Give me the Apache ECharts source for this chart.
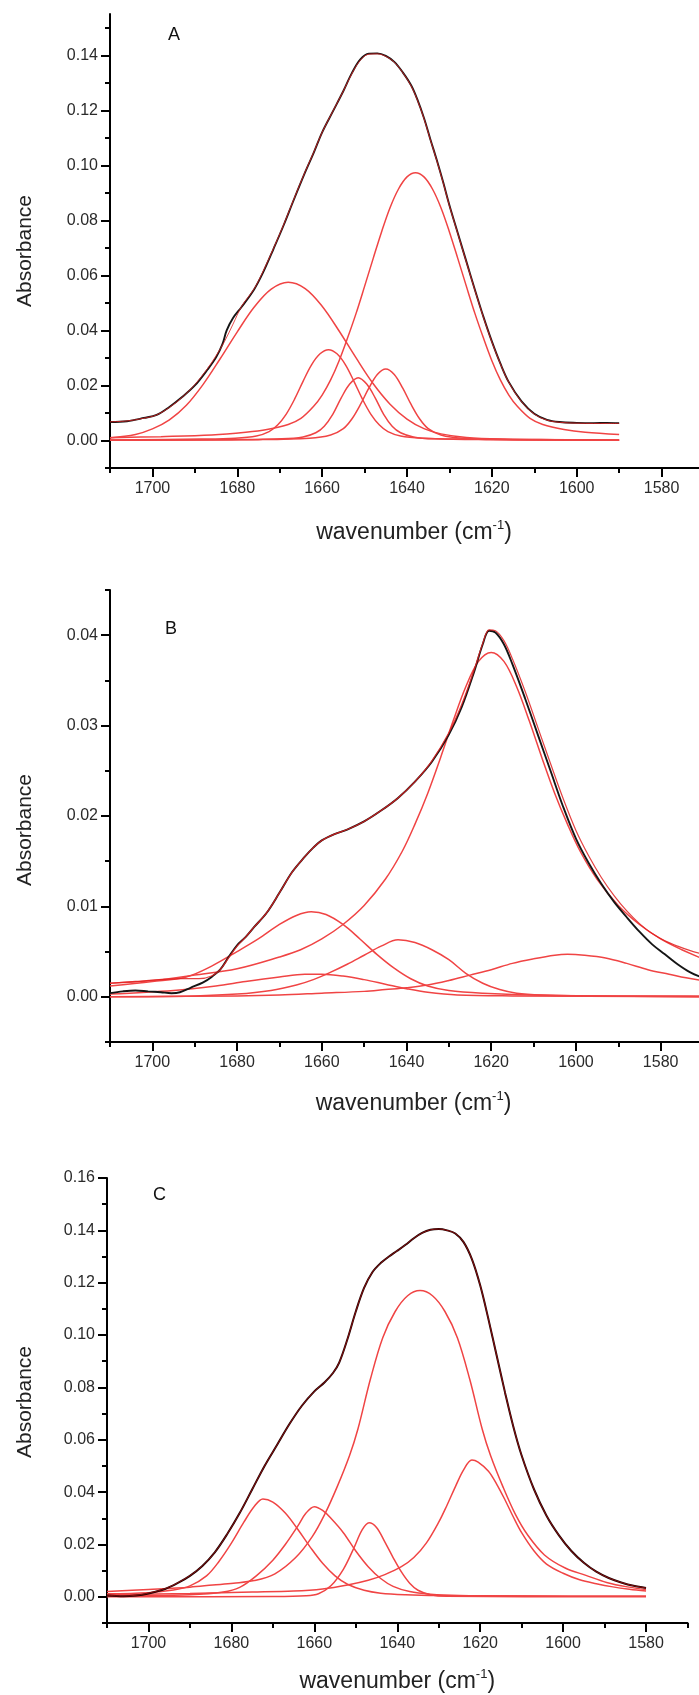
<!DOCTYPE html>
<html><head><meta charset="utf-8">
<script src="https://cdn.jsdelivr.net/npm/echarts@6/dist/echarts.min.js"></script>
<style>html,body{margin:0;padding:0;background:#fff}#c{width:699px;height:1695px}</style>
</head><body><div id="c"></div>
<script>
// ---------- tick values ----------
const xMajor = [1700,1680,1660,1640,1620,1600,1580];
const xMinor = [1710,1690,1670,1650,1630,1610,1590,1570];
const yMajorA = [0,0.02,0.04,0.06,0.08,0.10,0.12,0.14];
const yMinorA = [-0.01,0.01,0.03,0.05,0.07,0.09,0.11,0.13,0.15];
const yMajorB = [0,0.01,0.02,0.03,0.04];
const yMinorB = [-0.005,0.005,0.015,0.025,0.035,0.045];
const yMajorC = [0,0.02,0.04,0.06,0.08,0.10,0.12,0.14,0.16];
const yMinorC = [-0.01,0.01,0.03,0.05,0.07,0.09,0.11,0.13,0.15];
const panelLabels = ['A','B','C'];
const yTitle = 'Absorbance';
const xTitle = 'wavenumber (cm{sup|-1})';

// ---------- Panel A ----------
const A_exp = [[1710,0.0067],[1706,0.0070],[1702,0.0082],[1699,0.0093],[1696,0.0122],[1693,0.0158],[1690,0.0200],[1687,0.0258],[1685,0.0302],[1683.5,0.0350],[1682.5,0.0400],[1681,0.0445],[1679,0.0485],[1676,0.0550],[1674,0.0608],[1671.5,0.0695],[1669,0.0785],[1666.7,0.0874],[1664,0.0975],[1662,0.1045],[1660,0.1120],[1657.5,0.1195],[1655,0.1270],[1653,0.1335],[1651,0.1385],[1649,0.1406],[1647,0.1407],[1645,0.1398],[1643,0.1376],[1641,0.1338],[1639,0.1290],[1637.5,0.1237],[1636,0.1172],[1634.5,0.1095],[1633,0.1020],[1631.5,0.0940],[1630,0.0855],[1628,0.0752],[1626,0.0650],[1624,0.0548],[1622,0.0450],[1620,0.0360],[1618,0.0280],[1616,0.0212],[1613,0.0142],[1610,0.0097],[1607,0.0075],[1604,0.0067],[1600,0.0064],[1596,0.0063],[1593,0.0064],[1590,0.0063]];
const A_fit = [[1710,0.0068],[1706,0.0071],[1702,0.0081],[1699,0.0093],[1696,0.0120],[1693,0.0157],[1690,0.0203],[1687,0.0262],[1685,0.0308],[1683,0.0360],[1681,0.0423],[1679,0.0487],[1676,0.0552],[1674,0.0612],[1671.5,0.0697],[1669,0.0787],[1666.7,0.0876],[1664,0.0977],[1662,0.1047],[1660,0.1120],[1657.5,0.1196],[1655,0.1270],[1653,0.1333],[1651,0.1382],[1649,0.1404],[1647,0.1405],[1645,0.1396],[1643,0.1375],[1641,0.1337],[1639,0.1288],[1637.5,0.1235],[1636,0.1170],[1634.5,0.1093],[1633,0.1018],[1631.5,0.0938],[1630,0.0853],[1628,0.0750],[1626,0.0648],[1624,0.0546],[1622,0.0448],[1620,0.0358],[1618,0.0279],[1616,0.0211],[1613,0.0141],[1610,0.0096],[1607,0.0074],[1604,0.0066],[1600,0.0063],[1596,0.0062],[1593,0.0062],[1590,0.0062]];
const A_c1668 = [[1710,0.0010],[1704,0.0022],[1700,0.0042],[1696,0.0075],[1692,0.0128],[1688,0.0205],[1684,0.0298],[1680,0.0395],[1676,0.0485],[1672,0.0550],[1668,0.0575],[1664,0.0552],[1660,0.0488],[1656,0.0398],[1652,0.0300],[1648,0.0207],[1644,0.0132],[1640,0.0078],[1636,0.0043],[1632,0.0024],[1626,0.0011],[1618,0.0005],[1605,0.0003],[1590,0.0002]];
const A_c1658 = [[1710,0.0002],[1688.5,0.0005],[1680.5,0.0008],[1675.5,0.0016],[1672.5,0.0032],[1670.5,0.0056],[1668.5,0.0095],[1666.5,0.0150],[1664.5,0.0215],[1662.5,0.0275],[1660.5,0.0315],[1658.5,0.0330],[1656.5,0.0315],[1654.5,0.0275],[1652.5,0.0215],[1650.5,0.0150],[1648.5,0.0095],[1646.5,0.0056],[1644.5,0.0032],[1641.5,0.0016],[1636.5,0.0008],[1628.5,0.0005],[1590,0.0002]];
const A_c1651 = [[1710,0.0001],[1681.5,0.0003],[1669.5,0.0006],[1664.5,0.0013],[1661.5,0.0028],[1659.5,0.0052],[1657.5,0.0095],[1655.5,0.0155],[1653.5,0.0205],[1651.5,0.0228],[1649.5,0.0205],[1647.5,0.0155],[1645.5,0.0095],[1643.5,0.0052],[1641.5,0.0028],[1638.5,0.0013],[1633.5,0.0006],[1621.5,0.0003],[1590,0.0001]];
const A_c1645 = [[1710,0.0001],[1675,0.0003],[1663,0.0008],[1658,0.0020],[1655,0.0043],[1653,0.0078],[1651,0.0130],[1649,0.0190],[1647,0.0240],[1645,0.0260],[1643,0.0240],[1641,0.0190],[1639,0.0130],[1637,0.0078],[1635,0.0043],[1632,0.0020],[1627,0.0008],[1615,0.0003],[1590,0.0001]];
const A_c1638 = [[1710,0.0010],[1698,0.0014],[1686,0.0020],[1678,0.0030],[1673,0.0040],[1668,0.0058],[1665,0.0080],[1662,0.0124],[1660,0.0165],[1658,0.0220],[1656,0.0290],[1654,0.0373],[1652,0.0462],[1650,0.0560],[1648,0.0660],[1646,0.0758],[1644,0.0846],[1642,0.0914],[1640,0.0958],[1638,0.0973],[1636,0.0958],[1634,0.0914],[1632,0.0846],[1630,0.0758],[1628,0.0660],[1626,0.0560],[1624,0.0462],[1622,0.0373],[1620,0.0290],[1618,0.0220],[1616,0.0165],[1614,0.0124],[1611,0.0080],[1608,0.0058],[1603,0.0040],[1598,0.0030],[1590,0.0022]];

// ---------- Panel B ----------
const B_exp = [[1710,0.0004],[1707,0.0006],[1704,0.0007],[1701,0.0006],[1698,0.0005],[1695.5,0.0004],[1693.5,0.0005],[1691,0.0010],[1688,0.0016],[1686,0.0022],[1684,0.0030],[1682,0.0044],[1680,0.0057],[1678,0.0066],[1676,0.0077],[1673,0.0093],[1670,0.0115],[1667,0.0138],[1664,0.0155],[1662,0.0165],[1660,0.0173],[1657,0.0180],[1654,0.0185],[1650,0.0194],[1646,0.0206],[1642,0.0220],[1638,0.0238],[1634,0.0260],[1630,0.0290],[1627,0.0320],[1624,0.0360],[1622,0.0390],[1620.5,0.0405],[1619,0.0403],[1617,0.0390],[1615,0.0368],[1612,0.0330],[1609,0.0290],[1606,0.0250],[1603,0.0210],[1600,0.0175],[1597,0.0148],[1594,0.0125],[1591,0.0105],[1588,0.0088],[1585,0.0072],[1582,0.0058],[1579,0.0047],[1576,0.0036],[1573,0.0027],[1570,0.0021]];
const B_fit = [[1710,0.0015],[1704,0.0017],[1698,0.0019],[1693,0.0020],[1689,0.0020],[1686,0.0023],[1684,0.0030],[1682,0.0043],[1680,0.0056],[1678,0.0066],[1676,0.0077],[1673,0.0093],[1670,0.0115],[1667,0.0138],[1664,0.0155],[1662,0.0165],[1660,0.0173],[1657,0.0180],[1654,0.0185],[1650,0.0194],[1646,0.0206],[1642,0.0220],[1638,0.0238],[1634,0.0261],[1630,0.0292],[1627,0.0323],[1624,0.0362],[1622,0.0391],[1620.5,0.0406],[1619,0.0405],[1617,0.0394],[1615,0.0374],[1612,0.0338],[1609,0.0298],[1606,0.0258],[1603,0.0219],[1600,0.0184],[1597,0.0156],[1594,0.0132],[1591,0.0112],[1588,0.0095],[1585,0.0081],[1582,0.0070],[1579,0.0062],[1576,0.0056],[1573,0.0051],[1570,0.0047]];
const B_c1662 = [[1710,0.0012],[1700,0.0017],[1692,0.0022],[1686,0.0034],[1680,0.0050],[1675,0.0064],[1670,0.0080],[1666,0.0090],[1662.5,0.0094],[1659,0.0091],[1655,0.0080],[1651,0.0064],[1647,0.0047],[1643,0.0032],[1639,0.0020],[1635,0.0012],[1630,0.0007],[1622,0.0004],[1610,0.0002],[1590,0.0001],[1570,0.0001]];
const B_c1660s = [[1710,0.0003],[1695,0.0007],[1685,0.0012],[1678,0.0017],[1670,0.0022],[1664,0.0025],[1660,0.0025],[1655,0.0023],[1650,0.0019],[1645,0.0014],[1640,0.0009],[1635,0.0005],[1628,0.0002],[1615,0.0001],[1570,0.0000]];
const B_c1642 = [[1710,0.0000],[1690,0.0001],[1680,0.0003],[1672,0.0007],[1666,0.0013],[1662,0.0019],[1658,0.0027],[1654,0.0036],[1650,0.0046],[1646,0.0056],[1642,0.0063],[1638,0.0060],[1634,0.0052],[1630,0.0041],[1626,0.0026],[1622,0.0015],[1618,0.0008],[1614,0.0004],[1608,0.0002],[1598,0.0001],[1570,0.0000]];
const B_c1603 = [[1710,0.0000],[1680,0.0001],[1670,0.0002],[1660,0.0004],[1650,0.0006],[1645,0.0008],[1640,0.0010],[1635,0.0013],[1630,0.0018],[1625,0.0024],[1620,0.0030],[1615,0.0037],[1610,0.0042],[1605,0.0046],[1602,0.0047],[1598,0.0046],[1593,0.0043],[1588,0.0037],[1583,0.0030],[1578,0.0025],[1574,0.0021],[1570,0.0018]];
const B_c1620 = [[1710,0.0015],[1700,0.0018],[1690,0.0024],[1680,0.0031],[1670,0.0044],[1665,0.0052],[1660,0.0064],[1655,0.0080],[1650,0.0101],[1645,0.0130],[1641,0.0161],[1638,0.0191],[1635,0.0225],[1632,0.0264],[1629,0.0305],[1626,0.0343],[1623,0.0371],[1620,0.0381],[1617,0.0371],[1614,0.0343],[1611,0.0305],[1608,0.0264],[1605,0.0225],[1602,0.0191],[1599,0.0161],[1595,0.0130],[1590,0.0101],[1585,0.0080],[1580,0.0064],[1575,0.0052],[1570,0.0042]];

// ---------- Panel C ----------
const C_exp = [[1710,0.0005],[1706,0.0002],[1703,0.0005],[1700,0.0013],[1696,0.0030],[1693,0.0052],[1690,0.0080],[1687,0.0118],[1684,0.0170],[1681,0.0240],[1678,0.0320],[1675,0.0410],[1672,0.0500],[1669,0.0580],[1666,0.0660],[1663,0.0730],[1660,0.0785],[1657.5,0.0820],[1655.5,0.0855],[1654,0.0895],[1652,0.0985],[1650,0.1090],[1648,0.1180],[1646,0.1240],[1644,0.1275],[1642,0.1300],[1640,0.1322],[1638,0.1345],[1636,0.1370],[1634,0.1390],[1632,0.1402],[1630,0.1405],[1628,0.1400],[1626,0.1388],[1624,0.1355],[1622,0.1290],[1620,0.1190],[1618,0.1060],[1616,0.0920],[1614,0.0780],[1612,0.0650],[1610,0.0540],[1607,0.0410],[1604,0.0310],[1601,0.0235],[1598,0.0175],[1595,0.0130],[1592,0.0096],[1589,0.0072],[1586,0.0055],[1583,0.0042],[1580,0.0034]];
const C_fit = [[1710,0.0006],[1706,0.0003],[1703,0.0006],[1700,0.0014],[1696,0.0031],[1693,0.0053],[1690,0.0081],[1687,0.0118],[1684,0.0170],[1681,0.0240],[1678,0.0320],[1675,0.0410],[1672,0.0500],[1669,0.0580],[1666,0.0660],[1663,0.0730],[1660,0.0785],[1657.5,0.0820],[1655.5,0.0855],[1654,0.0895],[1652,0.0985],[1650,0.1090],[1648,0.1180],[1646,0.1240],[1644,0.1275],[1642,0.1300],[1640,0.1322],[1638,0.1345],[1636,0.1370],[1634,0.1390],[1632,0.1402],[1630,0.1405],[1628,0.1400],[1626,0.1388],[1624,0.1355],[1622,0.1290],[1620,0.1190],[1618,0.1060],[1616,0.0920],[1614,0.0780],[1612,0.0650],[1610,0.0540],[1607,0.0410],[1604,0.0310],[1601,0.0235],[1598,0.0175],[1595,0.0130],[1592,0.0096],[1589,0.0072],[1586,0.0055],[1583,0.0042],[1580,0.0034]];
const C_c1672 = [[1710,0.0012],[1700,0.0016],[1694,0.0026],[1690,0.0042],[1686,0.0080],[1683,0.0135],[1680,0.0205],[1677,0.0285],[1674.5,0.0345],[1672.4,0.0374],[1670,0.0362],[1667,0.0320],[1664,0.0258],[1661,0.0190],[1658,0.0128],[1655,0.0080],[1652,0.0048],[1648,0.0025],[1644,0.0014],[1638,0.0008],[1630,0.0005],[1610,0.0003],[1580,0.0002]];
const C_c1660 = [[1710,0.0003],[1690,0.0008],[1682,0.0018],[1678,0.0036],[1674,0.0080],[1670,0.0140],[1667,0.0200],[1664,0.0270],[1662,0.0320],[1660,0.0344],[1658,0.0330],[1656,0.0300],[1653,0.0245],[1650,0.0175],[1647,0.0115],[1644,0.0070],[1641,0.0040],[1637,0.0020],[1632,0.0010],[1625,0.0005],[1610,0.0003],[1580,0.0002]];
const C_c1647 = [[1710,0.0000],[1670,0.0001],[1662,0.0004],[1659,0.0012],[1656,0.0042],[1653,0.0105],[1650.5,0.0185],[1648.5,0.0255],[1646.8,0.0283],[1645,0.0265],[1643,0.0210],[1641,0.0150],[1639,0.0095],[1637,0.0052],[1635,0.0025],[1632,0.0008],[1628,0.0002],[1580,0.0000]];
const C_c1622 = [[1710,0.0008],[1690,0.0013],[1675,0.0018],[1665,0.0022],[1658,0.0030],[1652,0.0045],[1647,0.0063],[1643,0.0085],[1639,0.0115],[1636,0.0150],[1633,0.0205],[1630,0.0285],[1628,0.0350],[1626,0.0420],[1624,0.0485],[1622,0.0523],[1620.5,0.0515],[1618,0.0480],[1616,0.0430],[1614,0.0370],[1612,0.0305],[1610,0.0245],[1607,0.0175],[1604,0.0125],[1600,0.0090],[1596,0.0065],[1592,0.0050],[1588,0.0038],[1584,0.0029],[1580,0.0022]];
const C_c1635 = [[1710,0.0020],[1700,0.0028],[1690,0.0037],[1684.5,0.0045],[1679.5,0.0052],[1674.5,0.0062],[1669.5,0.0088],[1664.5,0.0150],[1660.5,0.0230],[1657.5,0.0315],[1654.5,0.0420],[1651.5,0.0540],[1649.5,0.0640],[1646.5,0.0830],[1643.5,0.0990],[1640.5,0.1090],[1637.5,0.1150],[1634.5,0.1170],[1631.5,0.1150],[1628.5,0.1090],[1625.5,0.0990],[1622.5,0.0830],[1619.5,0.0640],[1617.5,0.0540],[1614.5,0.0420],[1611.5,0.0315],[1608.5,0.0235],[1604.5,0.0160],[1599.5,0.0110],[1594.5,0.0082],[1589.5,0.0055],[1584.5,0.0038],[1580,0.0028]];

// ---------- build ----------
const FONT = '"Liberation Sans", Arial, sans-serif';
const grids = [
  {left:110, top:14, width:594, height:454},
  {left:110, top:590, width:593, height:452},
  {left:107, top:1178, width:580.5, height:445}
];
const yRanges = [[-0.01,0.155],[-0.005,0.045],[-0.01,0.16]];
const yMaj = [yMajorA,yMajorB,yMajorC];
const yMin = [yMinorA,yMinorB,yMinorC];
const nameGaps = [51, 48, 45];
const nameShift = [14, 14, 0];
const yNameCenters = [251, 830, 1402];

const xAxes = [], yAxes = [];
grids.forEach((g,i) => {
  xAxes.push({
    type:'value', gridIndex:i, min:1570, max:1710, inverse:true, position:'bottom', offset:0,
    name:xTitle, nameLocation:'middle', nameGap:nameGaps[i],
    nameTextStyle:{fontFamily:FONT, fontSize:23, color:'#222', lineHeight:27, padding:[0,0,0,nameShift[i]],
      rich:{sup:{fontFamily:FONT, fontSize:13, color:'#222', verticalAlign:'top', lineHeight:13}}},
    axisLine:{show:true, onZero:false, lineStyle:{color:'#000', width:2}},
    axisTick:{show:true, inside:false, length:9, lineStyle:{color:'#000', width:2}, customValues:xMajor},
    axisLabel:{show:true, margin:13, fontFamily:FONT, fontSize:16, color:'#2a2a2a', customValues:xMajor,
      formatter:v=>String(Math.round(v))},
    splitLine:{show:false}
  });
  xAxes.push({
    type:'value', gridIndex:i, min:1570, max:1710, inverse:true, position:'bottom', offset:0,
    axisLine:{show:false, onZero:false}, axisLabel:{show:false}, splitLine:{show:false},
    axisTick:{show:true, inside:false, length:5, lineStyle:{color:'#000', width:2}, customValues:xMinor}
  });
  yAxes.push({
    type:'value', gridIndex:i, min:yRanges[i][0], max:yRanges[i][1], position:'left', offset:0,
    axisLine:{show:true, onZero:false, lineStyle:{color:'#000', width:2}},
    axisTick:{show:true, inside:false, length:9, lineStyle:{color:'#000', width:2}, customValues:yMaj[i]},
    axisLabel:{show:true, margin:12, fontFamily:FONT, fontSize:16, color:'#2a2a2a', customValues:yMaj[i],
      formatter:v=>v.toFixed(2)},
    splitLine:{show:false}
  });
  yAxes.push({
    type:'value', gridIndex:i, min:yRanges[i][0], max:yRanges[i][1], position:'left', offset:0,
    axisLine:{show:false, onZero:false}, axisLabel:{show:false}, splitLine:{show:false},
    axisTick:{show:true, inside:false, length:5, lineStyle:{color:'#000', width:2}, customValues:yMin[i]}
  });
});

const RED = '#f04444';
function ln(data, i, color, width, z, opacity) {
  return {type:'line', xAxisIndex:2*i, yAxisIndex:2*i, data:data, showSymbol:false, symbol:'none',
    smooth:0.35, z:z, silent:true,
    lineStyle:{color:color, width:width, opacity:opacity==null?1:opacity}};
}
const series = [];
[A_c1668,A_c1658,A_c1651,A_c1645,A_c1638].forEach(d=>series.push(ln(d,0,RED,1.5,2)));
series.push(ln(A_exp,0,'#151515',1.9,3));
series.push(ln(A_fit,0,'#e02020',1.0,4,0.8));
[B_c1662,B_c1660s,B_c1642,B_c1603,B_c1620].forEach(d=>series.push(ln(d,1,RED,1.5,2)));
series.push(ln(B_exp,1,'#151515',1.9,3));
series.push(ln(B_fit,1,'#e02020',1.2,4,0.85));
[C_c1672,C_c1660,C_c1647,C_c1622,C_c1635].forEach(d=>series.push(ln(d,2,RED,1.5,2)));
series.push(ln(C_exp,2,'#1a0000',2.0,3));
series.push(ln(C_fit,2,'#d01818',1.0,4,0.6));

const titles = [
  {text:panelLabels[0], left:168, top:26},
  {text:panelLabels[1], left:165, top:620},
  {text:panelLabels[2], left:153, top:1186}
].map(t=>Object.assign(t,{padding:0, textStyle:{fontFamily:FONT, fontSize:18, fontWeight:'normal', color:'#111'}}));

const graphics = yNameCenters.map(cy => ({
  type:'text', x:25, y:cy, rotation:Math.PI/2, silent:true,
  style:{text:yTitle, font:'21px ' + FONT, fill:'#222', align:'center', verticalAlign:'middle'}
}));

const chart = echarts.init(document.getElementById('c'), null, {renderer:'canvas'});
chart.setOption({
  animation:false, backgroundColor:'#fff',
  title:titles,
  graphic:graphics,
  grid:grids.map(g=>Object.assign({containLabel:false, outerBoundsMode:'none'}, g)),
  xAxis:xAxes, yAxis:yAxes, series:series
});
</script></body></html>
